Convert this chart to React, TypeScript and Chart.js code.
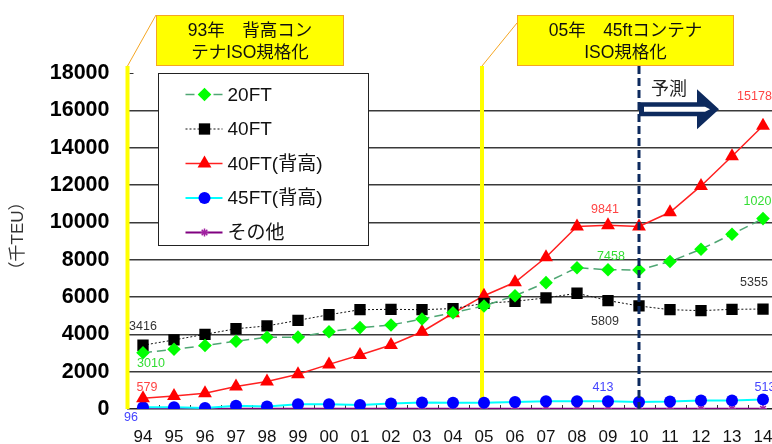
import { useEffect, useRef } from "react";
import { Chart, registerables } from "chart.js";
import { drawPoint } from "chart.js/helpers";

Chart.register(...registerables);

// Container volume by type, thousand TEU (2010 onward is forecast)
const years = ["94", "95", "96", "97", "98", "99", "00", "01", "02", "03", "04", "05", "06", "07", "08", "09", "10", "11", "12", "13", "14"];
const ft20 = [3010, 3200, 3400, 3630, 3840, 3850, 4140, 4360, 4500, 4820, 5160, 5520, 6070, 6770, 7570, 7458, 7450, 7900, 8560, 9360, 10200];
const ft40 = [3416, 3700, 4000, 4300, 4450, 4750, 5050, 5320, 5340, 5320, 5380, 5660, 5770, 5950, 6200, 5809, 5520, 5320, 5270, 5340, 5355];
const ft40hc = [579, 700, 840, 1200, 1470, 1860, 2390, 2890, 3430, 4140, 5130, 6070, 6790, 8130, 9780, 9841, 9780, 10540, 11950, 13540, 15178];
const ft45hc = [96, 100, 60, 170, 140, 250, 250, 210, 300, 350, 330, 340, 370, 410, 410, 413, 380, 400, 460, 450, 513];
const others = [10, 10, 10, 10, 10, 10, 10, 10, 10, 10, 10, 10, 10, 10, 10, 10, 10, 10, 10, 10, 10];

const seriesNames = ["20FT", "40FT", "40FT(背高)", "45FT(背高)", "その他"];
const yTicks = [0, 2000, 4000, 6000, 8000, 10000, 12000, 14000, 16000, 18000];
const yTitle = "（千TEU）";
const note93 = ["93年　背高コン", "テナISO規格化"];
const note05 = ["05年　45ftコンテナ", "ISO規格化"];
const forecastText = "予測";
const forecastStart = "10";
const isoYear = "05";

const FONT = '"Liberation Sans", Arial, "Noto Sans CJK JP", sans-serif';

// Which points carry a value label, and where the label sits relative to the point
const valueLabels = [
  { s: 1, i: 0, dx: 0, dy: -19, color: "#333333" },
  { s: 0, i: 0, dx: 8, dy: 11, color: "#33dd33" },
  { s: 2, i: 0, dx: 4, dy: -11, color: "#ff4444" },
  { s: 3, i: 0, dx: -12, dy: 10, color: "#4444ff" },
  { s: 2, i: 15, dx: -3, dy: -16, color: "#ff4444" },
  { s: 0, i: 15, dx: 3, dy: -13, color: "#33dd33" },
  { s: 1, i: 15, dx: -3, dy: 21, color: "#333333" },
  { s: 3, i: 15, dx: -5, dy: -14, color: "#4444ff" },
  { s: 1, i: 20, dx: -9, dy: -26, color: "#333333" },
  { s: 3, i: 20, dx: 2, dy: -12, color: "#4444ff" },
  { s: 0, i: 20, dx: -2, dy: -17, color: "#33dd33" },
  { s: 2, i: 20, dx: -8.5, dy: -29, color: "#ff4444" },
];

const NAVY = "#0d2a5e";

const overlay = {
  id: "overlay",
  beforeDatasetsDraw(chart: any) {
    const { ctx, chartArea, scales } = chart;
    const x = scales.x;
    const y = scales.y;
    const step = x.getPixelForValue(1) - x.getPixelForValue(0);
    ctx.save();
    // small inner tick marks on the category axis
    ctx.strokeStyle = "#333";
    ctx.lineWidth = 1;
    for (let i = 0; i <= years.length; i++) {
      const px = Math.round(x.getPixelForValue(0) - step / 2 + i * step) + 0.5;
      ctx.beginPath();
      ctx.moveTo(px, chartArea.bottom - 4);
      ctx.lineTo(px, chartArea.bottom);
      ctx.stroke();
    }
    // short tick at the top of the value axis
    const yTop = Math.round(y.getPixelForValue(18000)) + 0.5;
    ctx.beginPath();
    ctx.moveTo(chartArea.left + 2, yTop);
    ctx.lineTo(chartArea.left + 6, yTop);
    ctx.stroke();
    // yellow markers for the ISO standardisation years
    ctx.fillStyle = "#ffff00";
    const top = chartArea.top - 7;
    const x93 = x.getPixelForValue(0) - step / 2;
    ctx.fillRect(x93 - 2, top, 4, chartArea.bottom - top);
    const x05 = x.getPixelForValue(years.indexOf(isoYear)) - 2;
    ctx.fillRect(x05 - 2, top, 4, chartArea.bottom - top);
    ctx.restore();
  },
  afterDatasetsDraw(chart: any) {
    const { ctx, chartArea, scales } = chart;
    const x = scales.x;
    const y = scales.y;
    const step = x.getPixelForValue(1) - x.getPixelForValue(0);
    ctx.save();

    // forecast boundary
    const xf = x.getPixelForValue(years.indexOf(forecastStart));
    ctx.strokeStyle = NAVY;
    ctx.lineWidth = 3;
    ctx.setLineDash([8, 4]);
    ctx.beginPath();
    ctx.moveTo(xf, chartArea.top - 7);
    ctx.lineTo(xf, chartArea.bottom);
    ctx.stroke();
    ctx.setLineDash([]);

    // forecast arrow
    const ay = y.getPixelForValue(16000) - 1;
    ctx.fillStyle = NAVY;
    ctx.beginPath();
    ctx.moveTo(xf, ay - 7);
    ctx.lineTo(xf + 58, ay - 7);
    ctx.lineTo(xf + 58, ay - 20);
    ctx.lineTo(xf + 80, ay);
    ctx.lineTo(xf + 58, ay + 20);
    ctx.lineTo(xf + 58, ay + 7);
    ctx.lineTo(xf, ay + 7);
    ctx.closePath();
    ctx.fill();
    ctx.fillStyle = "#ffffff";
    ctx.beginPath();
    ctx.moveTo(xf + 5, ay - 2.5);
    ctx.lineTo(xf + 66, ay - 2.5);
    ctx.lineTo(xf + 71, ay);
    ctx.lineTo(xf + 66, ay + 2.5);
    ctx.lineTo(xf + 5, ay + 2.5);
    ctx.closePath();
    ctx.fill();
    ctx.fillStyle = "#222";
    ctx.font = `18px ${FONT}`;
    ctx.textAlign = "left";
    ctx.textBaseline = "middle";
    ctx.fillText(forecastText, xf + 12, ay - 19);

    // value labels
    ctx.font = `12.5px ${FONT}`;
    ctx.textAlign = "center";
    ctx.textBaseline = "middle";
    for (const l of valueLabels) {
      const pt = chart.getDatasetMeta(l.s).data[l.i];
      const v = chart.data.datasets[l.s].data[l.i];
      ctx.fillStyle = l.color;
      ctx.fillText(String(v), pt.x + l.dx, pt.y + l.dy);
    }

    // legend
    const lx = 158.5, ly = 73.5, lw = 210, lh = 172;
    ctx.fillStyle = "#ffffff";
    ctx.fillRect(lx, ly, lw, lh);
    ctx.strokeStyle = "#222";
    ctx.lineWidth = 1;
    ctx.strokeRect(lx, ly, lw, lh);
    chart.data.datasets.forEach((ds: any, k: number) => {
      const cy = ly + 21 + k * 34.5;
      ctx.strokeStyle = ds.borderColor;
      ctx.lineWidth = ds.borderWidth;
      ctx.setLineDash(ds.borderDash || []);
      ctx.beginPath();
      ctx.moveTo(lx + 27, cy);
      ctx.lineTo(lx + 64, cy);
      ctx.stroke();
      ctx.setLineDash([]);
      ctx.fillStyle = ds.pointBackgroundColor;
      ctx.strokeStyle = ds.pointBorderColor || ds.pointBackgroundColor;
      ctx.lineWidth = ds.pointBorderWidth;
      drawPoint(ctx, { pointStyle: ds.pointStyle, radius: ds.pointRadius, rotation: 0, borderWidth: ds.pointBorderWidth }, lx + 46, cy);
      ctx.fillStyle = "#111";
      ctx.font = `19px ${FONT}`;
      ctx.textAlign = "left";
      ctx.textBaseline = "middle";
      ctx.fillText(ds.label, lx + 69, cy + 1);
    });

    // callout notes
    const drawNote = (bx: number, bw: number, lines: string[], fromY: number, toX: number) => {
      ctx.strokeStyle = "#f5a623";
      ctx.lineWidth = 1;
      ctx.beginPath();
      ctx.moveTo(bx, fromY);
      ctx.lineTo(toX, chartArea.top - 7);
      ctx.stroke();
      ctx.fillStyle = "#ffff00";
      ctx.fillRect(bx, 15, bw, 51);
      ctx.strokeRect(bx + 0.5, 15.5, bw - 1, 50);
      ctx.fillStyle = "#111";
      ctx.font = `17.5px ${FONT}`;
      ctx.textAlign = "center";
      ctx.textBaseline = "middle";
      ctx.fillText(lines[0], bx + bw / 2, 31);
      ctx.fillText(lines[1], bx + bw / 2, 53);
    };
    const x93 = x.getPixelForValue(0) - step / 2;
    const x05 = x.getPixelForValue(years.indexOf(isoYear)) - 2;
    drawNote(156, 188, note93, 15, x93);
    drawNote(517, 217, note05, 23, x05);

    // axis title
    ctx.save();
    ctx.translate(18, 236);
    ctx.rotate(-Math.PI / 2);
    ctx.fillStyle = "#333";
    ctx.font = `17px ${FONT}`;
    ctx.textAlign = "center";
    ctx.textBaseline = "middle";
    ctx.fillText(yTitle, 0, 0);
    ctx.restore();

    ctx.restore();
  },
};

export default function App() {
  const ref = useRef<HTMLCanvasElement>(null);
  useEffect(() => {
    const chart = new Chart(ref.current!, {
      type: "line",
      data: {
        labels: years,
        datasets: [
          { label: seriesNames[0], data: ft20, borderColor: "#4fa673", borderWidth: 1.5, borderDash: [9, 5], pointStyle: "rectRot", pointRadius: 6.8, pointBackgroundColor: "#00ff00", pointBorderColor: "#00ff00", pointBorderWidth: 0 },
          { label: seriesNames[1], data: ft40, borderColor: "#111111", borderWidth: 1, borderDash: [2, 2], pointStyle: "rect", pointRadius: 8, pointBackgroundColor: "#000000", pointBorderColor: "#000000", pointBorderWidth: 0 },
          { label: seriesNames[2], data: ft40hc, borderColor: "#ff2020", borderWidth: 1.5, pointStyle: "triangle", pointRadius: 8, pointBackgroundColor: "#ff0000", pointBorderColor: "#ff0000", pointBorderWidth: 0 },
          { label: seriesNames[3], data: ft45hc, borderColor: "#00ffff", borderWidth: 2, pointStyle: "circle", pointRadius: 6, pointBackgroundColor: "#0000ff", pointBorderColor: "#0000ff", pointBorderWidth: 0 },
          { label: seriesNames[4], data: others, borderColor: "#800080", borderWidth: 2, pointStyle: "star", pointRadius: 4, pointBackgroundColor: "#a020a0", pointBorderColor: "#a020a0", pointBorderWidth: 1.5 },
        ] as any,
      },
      options: {
        responsive: false,
        animation: false,
        events: [],
        layout: { padding: { left: 0, top: 73, right: 21.5, bottom: 0 } },
        elements: { line: { tension: 0 } },
        plugins: { legend: { display: false }, tooltip: { enabled: false } },
        scales: {
          x: {
            type: "category",
            offset: true,
            grid: { display: false },
            border: { display: true, color: "#222", width: 1.5 },
            ticks: { color: "#111", font: { family: FONT, size: 17 }, padding: 10, maxRotation: 0, autoSkip: false },
            afterFit: (s: any) => { s.height = 35; },
          },
          y: {
            min: 0,
            max: 18000,
            afterBuildTicks: (s: any) => { s.ticks = yTicks.map((v) => ({ value: v })); },
            grid: {
              drawTicks: false,
              color: (c: any) => (c.tick && (c.tick.value === 18000 || c.tick.value === 0) ? "rgba(0,0,0,0)" : "#3a3a3a"),
              lineWidth: 1.5,
            },
            border: { display: false },
            ticks: { color: "#000", font: { family: FONT, size: 21.5, weight: "bold" }, padding: 18, callback: (v: any) => String(v) },
            afterFit: (s: any) => { s.width = 127.5; },
          },
        },
      } as any,
      plugins: [overlay],
    });
    return () => chart.destroy();
  }, []);
  return (
    <div style={{ position: "fixed", left: 0, top: 0, width: 772, height: 444, overflow: "hidden", background: "#fff" }}>
      <canvas ref={ref} width={800} height={444} style={{ display: "block", width: 800, height: 444 }} />
    </div>
  );
}
